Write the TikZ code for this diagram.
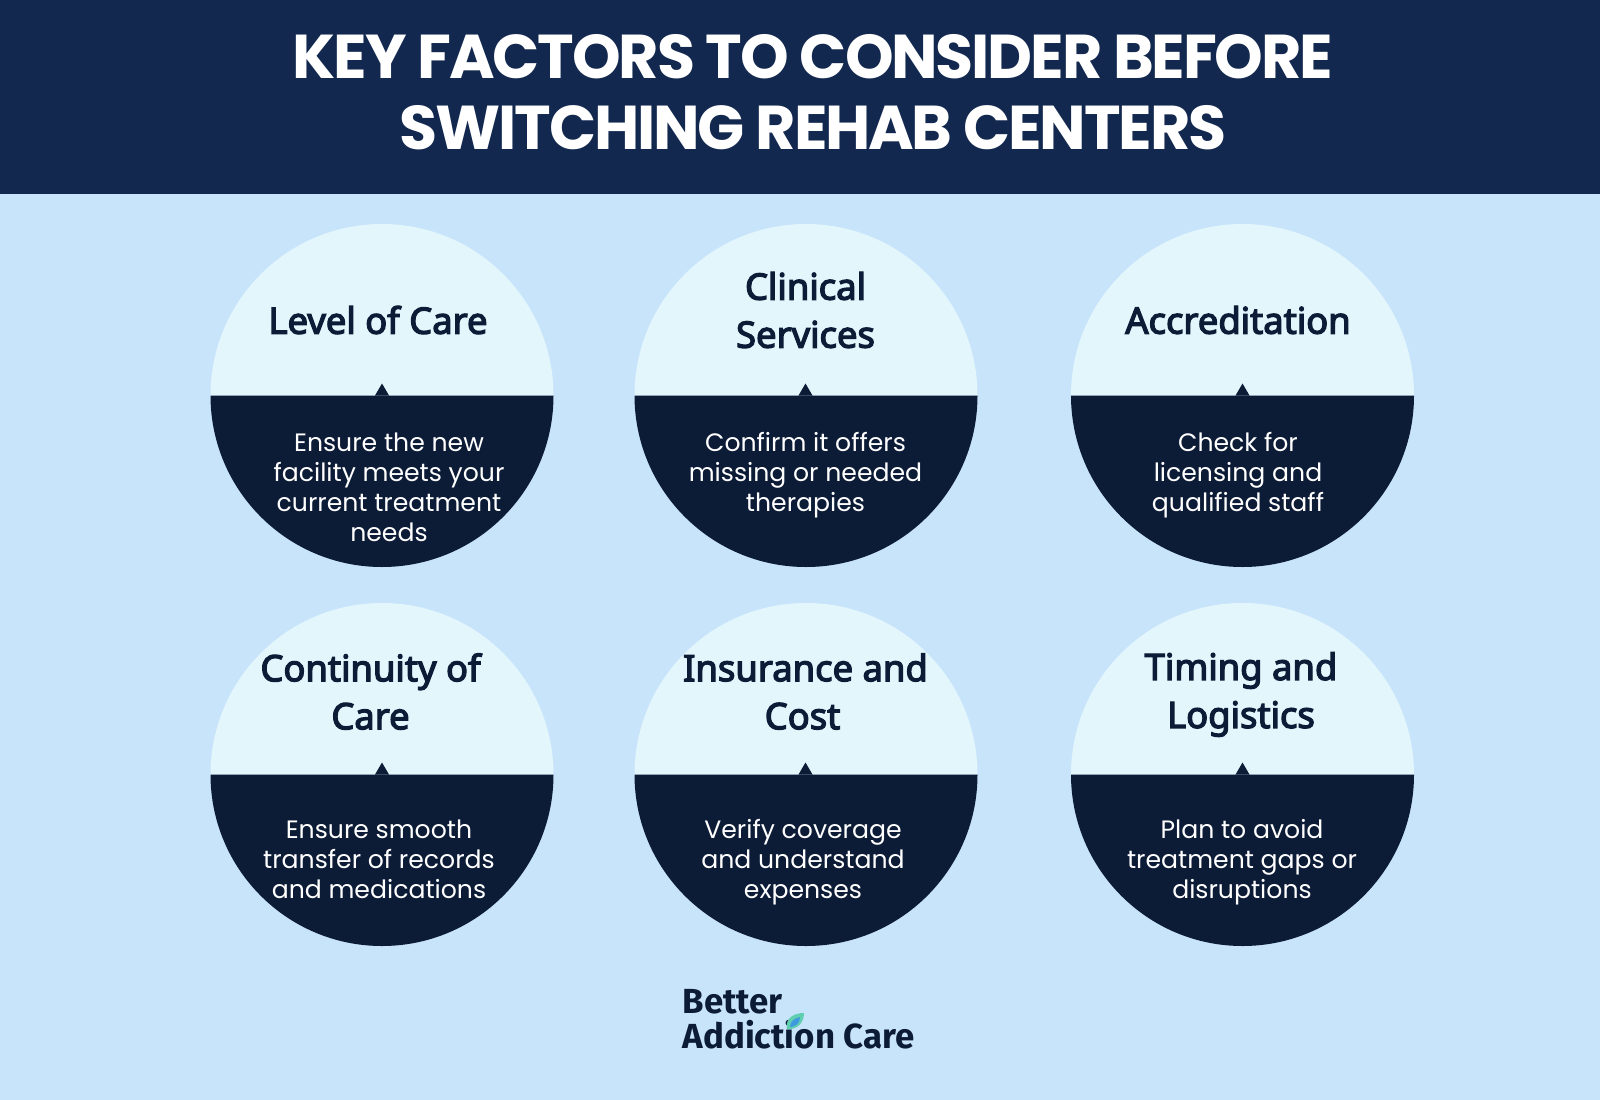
\documentclass[tikz,border=0pt]{standalone}
\usepackage{fontspec}
\usepackage{tikz}
\newfontfamily\titlefont[LetterSpace=-3.5]{Poppins}
\newfontfamily\headfont[FakeBold=3.5]{Noto Sans}
\newfontfamily\bodyfont{Poppins}
\newfontfamily\logofont{Fira Sans}
\definecolor{pagebg}{HTML}{C8E4FB}
\definecolor{bannerblue}{HTML}{12284F}
\definecolor{discdark}{HTML}{0C1B36}
\definecolor{disclight}{HTML}{E3F6FC}
\definecolor{leafgreen}{HTML}{5FCFB0}
\definecolor{leafblue}{HTML}{3E9BE0}

\begin{document}
\begin{tikzpicture}[x=0.01cm, y=0.01cm]
    \tikzstyle{disctop}=[fill=disclight]
    \tikzstyle{discbottom}=[fill=discdark]
    \tikzstyle{headline}=[text=discdark, align=center, font=\headfont\fontsize{10.35}{13.65}\selectfont]
    \tikzstyle{bodyline}=[text=white, align=center, font=\bodyfont\fontsize{7.15}{8.5}\selectfont]
    \tikzstyle{logoline}=[text=discdark, anchor=base west, inner sep=0pt, font=\logofont\bfseries\fontsize{9.9}{10}\selectfont]

    \fill[pagebg] (0,0) rectangle (1600,-1100);
    \useasboundingbox (0,0) rectangle (1600,-1100);
    \fill[bannerblue] (0,0) rectangle (1600,-193.5);
    \node[text=white, align=center, font=\titlefont\bfseries\fontsize{17.6}{20.2}\selectfont] (title) at (813,-92.5) {KEY FACTORS TO CONSIDER BEFORE\\SWITCHING REHAB CENTERS};

    % top row
    \fill[disctop] (210.5,-395.5) arc[start angle=180, end angle=0, radius=171.5] -- cycle;
    \fill[discbottom] (210.5,-395.5) arc[start angle=180, end angle=360, radius=171.5] -- cycle;
    \fill[discbottom] (375,-395.5) -- (382,-383.5) -- (389,-395.5) -- cycle;
    \fill[disctop] (634.5,-395.5) arc[start angle=180, end angle=0, radius=171.5] -- cycle;
    \fill[discbottom] (634.5,-395.5) arc[start angle=180, end angle=360, radius=171.5] -- cycle;
    \fill[discbottom] (798.5,-395.5) -- (805.5,-383.5) -- (812.5,-395.5) -- cycle;
    \fill[disctop] (1071,-395.5) arc[start angle=180, end angle=0, radius=171.5] -- cycle;
    \fill[discbottom] (1071,-395.5) arc[start angle=180, end angle=360, radius=171.5] -- cycle;
    \fill[discbottom] (1235.5,-395.5) -- (1242.5,-383.5) -- (1249.5,-395.5) -- cycle;

    % bottom row
    \fill[disctop] (210.5,-774.5) arc[start angle=180, end angle=0, radius=171.5] -- cycle;
    \fill[discbottom] (210.5,-774.5) arc[start angle=180, end angle=360, radius=171.5] -- cycle;
    \fill[discbottom] (375,-774.5) -- (382,-762.5) -- (389,-774.5) -- cycle;
    \fill[disctop] (634.5,-774.5) arc[start angle=180, end angle=0, radius=171.5] -- cycle;
    \fill[discbottom] (634.5,-774.5) arc[start angle=180, end angle=360, radius=171.5] -- cycle;
    \fill[discbottom] (798.5,-774.5) -- (805.5,-762.5) -- (812.5,-774.5) -- cycle;
    \fill[disctop] (1071,-774.5) arc[start angle=180, end angle=0, radius=171.5] -- cycle;
    \fill[discbottom] (1071,-774.5) arc[start angle=180, end angle=360, radius=171.5] -- cycle;
    \fill[discbottom] (1235.5,-774.5) -- (1242.5,-762.5) -- (1249.5,-774.5) -- cycle;

    \node[headline] (carehead) at (378,-320) {Level of Care};
    \node[headline] (clinicalhead) at (805.5,-310) {Clinical\\Services};
    \node[headline] (accredhead) at (1238,-320) {Accreditation};
    \node[headline] (continuityhead) at (370.5,-691.5) {Continuity of\\Care};
    \node[headline] (insurancehead) at (805.5,-691.5) {Insurance and\\Cost\hspace*{1.7pt}};
    \node[headline] (timinghead) at (1241,-694.5) {Timing and\\Logistics};

    \node[bodyline] (carebody) at (389,-487) {Ensure the new\\facility meets your\\current treatment\\needs};
    \node[bodyline] (clinicalbody) at (805.5,-475) {Confirm it offers\\missing or needed\\therapies};
    \node[bodyline] (accredbody) at (1238,-475) {Check for\\licensing and\\qualified staff};
    \node[bodyline] (continuitybody) at (379,-859) {Ensure smooth\\transfer of records\\and medications};
    \node[bodyline] (insurancebody) at (803,-862) {Verify coverage\\and understand\\expenses};
    \node[bodyline] (timingbody) at (1242,-862) {Plan to avoid\\treatment gaps or\\disruptions};

    \node[logoline] (logotop) at (682,-1013) {Better};
    \node[logoline] (logobottom) at (682,-1048) {Addiction Care};
    \fill[leafgreen] (787,-1029) .. controls (785,-1018) and (794,-1013) .. (804,-1013) .. controls (804,-1023) and (797,-1030) .. (787,-1029) -- cycle;
    \fill[leafblue] (790,-1027) .. controls (790,-1021) and (795,-1018) .. (800,-1017) .. controls (800,-1023) and (796,-1027) .. (790,-1027) -- cycle;
\end{tikzpicture}
\end{document}
